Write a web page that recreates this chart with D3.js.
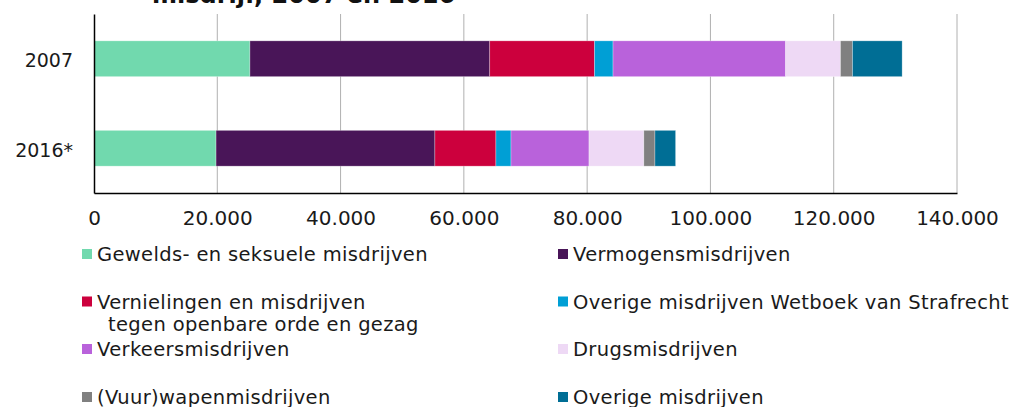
<!DOCTYPE html>
<html>
<head>
<meta charset="utf-8">
<script src="https://cdn.jsdelivr.net/npm/d3@7"></script>
<style>
  body { margin: 0; background: #fff; }
  svg { display: block; font-family: Verdana, "DejaVu Sans", sans-serif; }
</style>
</head>
<body>
<svg width="1012" height="407"></svg>
<script>
'use strict';

// years on the y axis
var years = ['2007', '2016*'];

// categories of crime (stack order, left to right)
var categories = [
  'Gewelds- en seksuele misdrijven',
  'Vermogensmisdrijven',
  'Vernielingen en misdrijven tegen openbare orde en gezag',
  'Overige misdrijven Wetboek van Strafrecht',
  'Verkeersmisdrijven',
  'Drugsmisdrijven',
  '(Vuur)wapenmisdrijven',
  'Overige misdrijven'
];

// values per category
var values2007 = [25300, 38900, 17000, 3000, 28000, 8900, 1950, 8050];
var values2016 = [19800, 35500, 9900, 2450, 12650, 8900, 1800, 3350];

var colors = ['#71d9ae', '#491558', '#cc003d', '#009fd5', '#b962db', '#eed9f5', '#808080', '#006e95'];

var xTicks = [0, 20000, 40000, 60000, 80000, 100000, 120000, 140000];

var svg = d3.select('svg');

var nl = d3.formatLocale({decimal: ',', thousands: '.', grouping: [3], currency: ['€', '']});
var fmt = nl.format(',d');

var x = d3.scaleLinear().domain([0, 140000]).range([94, 957]);
var y = d3.scaleBand().domain(years).range([14, 193]).paddingInner(0.6).paddingOuter(0.3);

// title, mostly cut off at the top (as in the original)
svg.append('text')
  .attr('x', 152).attr('y', 2.5)
  .attr('font-size', 24).attr('font-weight', 'bold').attr('fill', '#111')
  .text('misdrijf, 2007 en 2016');

// gridlines
svg.append('g').selectAll('line')
  .data(xTicks.slice(1))
  .join('line')
  .attr('x1', function(d){ return x(d); })
  .attr('x2', function(d){ return x(d); })
  .attr('y1', 14).attr('y2', 193)
  .attr('stroke', '#b0b0b0').attr('stroke-width', 1);

// stacked bars
var rows = [values2007, values2016];
rows.forEach(function(vals, i){
  var start = 0;
  var segs = vals.map(function(v, j){
    var s = {x0: start, x1: start + v, c: colors[j]};
    start += v;
    return s;
  });
  svg.append('g').selectAll('rect')
    .data(segs)
    .join('rect')
    .attr('x', function(d){ return x(d.x0); })
    .attr('width', function(d){ return x(d.x1) - x(d.x0); })
    .attr('y', y(years[i]))
    .attr('height', y.bandwidth())
    .attr('fill', function(d){ return d.c; })
    .attr('stroke', '#fff').attr('stroke-opacity', 0.4).attr('stroke-width', 0.7);
});

// axes
var xAxis = svg.append('g')
  .attr('transform', 'translate(0,193)')
  .call(d3.axisBottom(x).tickValues(xTicks).tickFormat(fmt).tickSize(0).tickPadding(18));
xAxis.attr('font-family', null).attr('font-size', 20);
xAxis.select('.domain').attr('stroke', '#000').attr('stroke-width', 1.5);
xAxis.selectAll('text').attr('fill', '#1a1a1a');

var yAxis = svg.append('g')
  .attr('transform', 'translate(94,0)')
  .call(d3.axisLeft(y).tickSize(0).tickPadding(21));
yAxis.attr('font-family', null).attr('font-size', 19);
yAxis.select('.domain').attr('stroke', '#000').attr('stroke-width', 1.5);
yAxis.selectAll('text').attr('fill', '#1a1a1a').attr('dy', '0.45em');

// legend, two columns
var legendX = [82, 558];
var legendY = [261, 308.5, 356, 404];
var legend = svg.append('g').attr('font-size', 19.5).attr('letter-spacing', 0.35).attr('fill', '#1a1a1a');
categories.forEach(function(c, i){
  var lx = legendX[i % 2];
  var ly = legendY[Math.floor(i / 2)];
  legend.append('rect')
    .attr('x', lx).attr('y', ly - 12)
    .attr('width', 10).attr('height', 10)
    .attr('fill', colors[i]);
  var t = legend.append('text').attr('x', lx + 15).attr('y', ly);
  if (i === 2) {
    t.append('tspan').text('Vernielingen en misdrijven');
    t.append('tspan').attr('x', lx + 26).attr('dy', 22.5).text('tegen openbare orde en gezag');
  } else {
    t.text(c);
  }
});
</script>
</body>
</html>
